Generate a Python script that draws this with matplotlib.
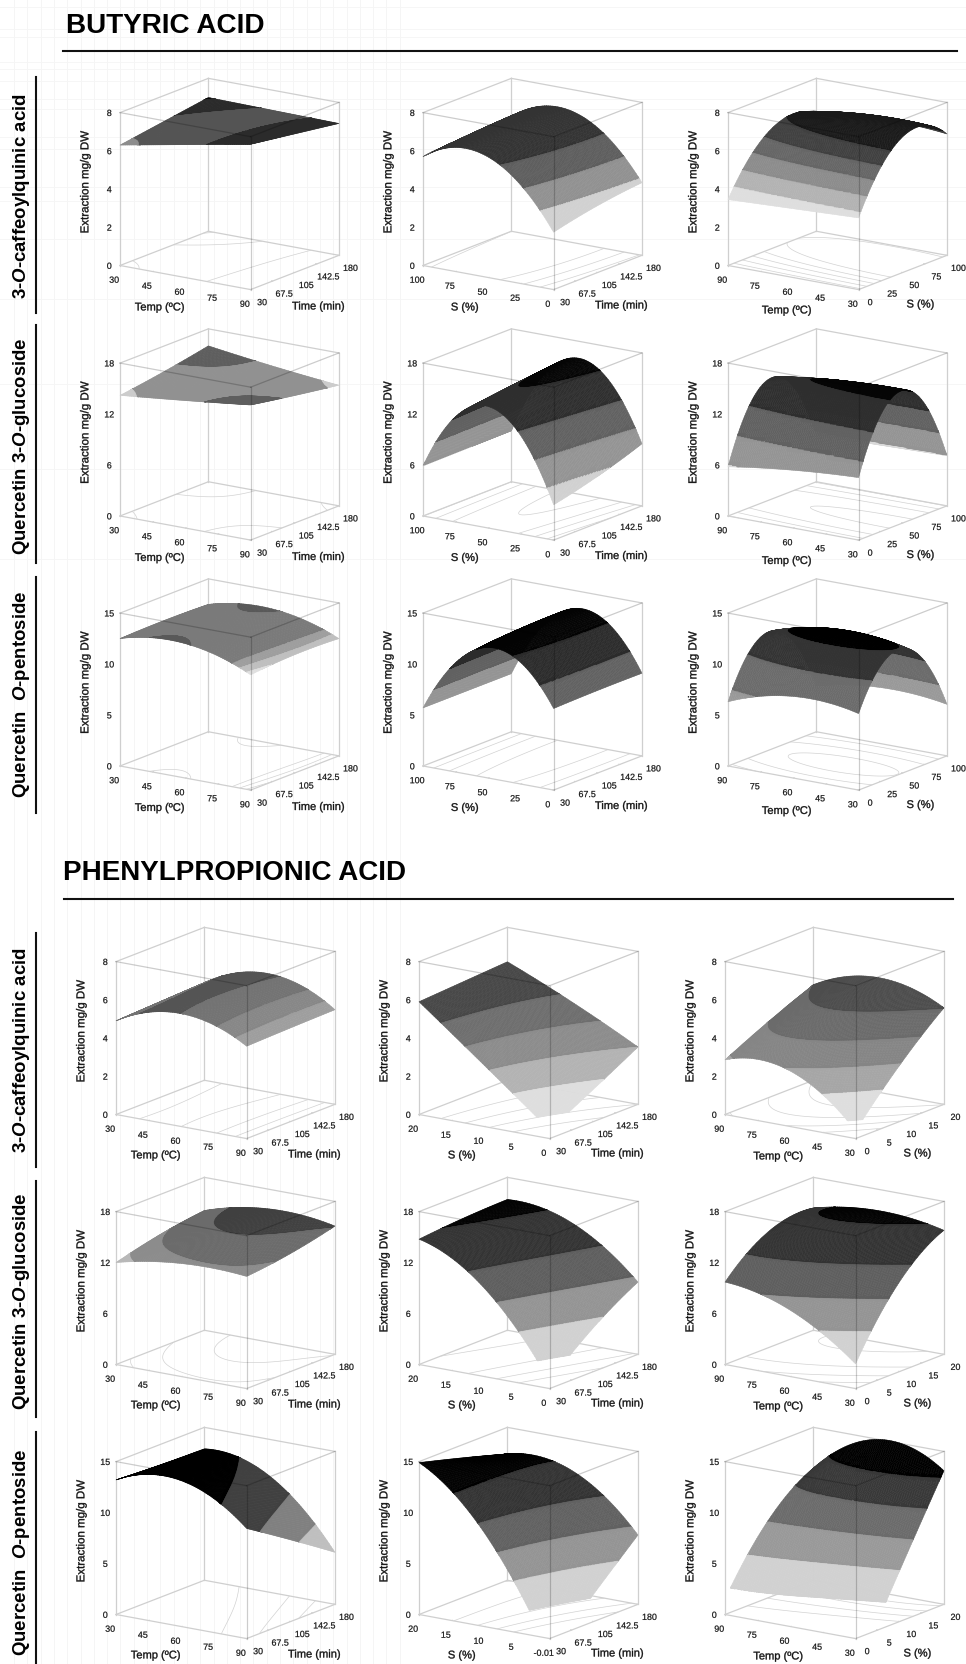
import warnings
import numpy as np
import matplotlib
matplotlib.use('Agg')
import matplotlib.pyplot as plt
import matplotlib.patheffects as pe
from mpl_toolkits.mplot3d import proj3d
from mpl_toolkits.mplot3d.art3d import Poly3DCollection

warnings.filterwarnings('ignore')
plt.rcParams['font.family'] = ['Liberation Sans', 'DejaVu Sans']
plt.rcParams['mathtext.fontset'] = 'custom'
plt.rcParams['mathtext.rm'] = 'Liberation Sans:bold'
plt.rcParams['mathtext.it'] = 'Liberation Sans:italic:bold'
plt.rcParams['mathtext.bf'] = 'Liberation Sans:bold'

W_PX, H_PX = 966, 1665

# tick labels ---------------------------------------------------------------
TEMP = [30, 45, 60, 75, 90]
TEMP_REV = [90, 75, 60, 45, 30]
TIME = [30, 67.5, 105, 142.5, 180]
S_BUT_REV = [100, 75, 50, 25, 0]
S_BUT = [0, 25, 50, 75, 100]
S_PHE_REV = [20, 15, 10, 5, 0]
S_PHE = [0, 5, 10, 15, 20]
Z_CQA = [0, 2, 4, 6, 8]
Z_GLU = [0, 6, 12, 18]
Z_PEN = [0, 5, 10, 15]

# response values at low / mid / high of each factor
# rows: second factor (front -> back), columns: first factor (left -> front)
Z11 = [[6.3, 6.95, 7.6], [6.65, 7.1, 7.25], [7.0, 6.95, 6.9]]
Z12 = [[5.7, 6.3, 3.0], [5.85, 6.7, 3.5], [6.0, 6.8, 3.8]]
Z13 = [[3.45, 3.6, 3.75], [6.3, 6.9, 7.1], [6.2, 6.5, 6.35]]
Z21 = [[14.2, 15.0, 15.9], [15.0, 15.05, 15.0], [16.0, 15.0, 14.2]]
Z22 = [[5.9, 14.3, 4.15], [5.95, 15.2, 5.5], [6.0, 16.0, 7.3]]
Z23 = [[5.8, 6.8, 7.35], [14.3, 15.3, 15.6], [5.5, 5.7, 5.9]]
Z31 = [[12.5, 13.18, 11.3], [12.6, 12.9, 11.6], [12.5, 13.2, 11.5]]
Z32 = [[5.7, 12.8, 8.0], [5.7, 13.2, 8.1], [5.7, 13.3, 8.1]]
Z33 = [[6.3, 8.0, 7.5], [11.6, 12.9, 12.2], [4.5, 5.5, 5.05]]
Z41 = [[4.9, 5.9, 4.83], [5.0, 6.1, 4.9], [5.1, 6.2, 4.95]]
Z42 = [[5.9, 3.2, 0.45], [6.05, 3.9, 1.7], [6.2, 4.7, 3.0]]
Z43 = [[2.86, 2.9, 0.4], [4.0, 4.75, 2.95], [5.0, 6.0, 5.05]]
Z51 = [[12.0, 13.3, 13.2], [13.3, 15.0, 13.9], [14.1, 15.7, 15.1]]
Z52 = [[14.75, 10.4, 0.8], [15.2, 12.5, 5.2], [15.4, 14.0, 8.5]]
Z53 = [[9.7, 7.8, 2.9], [13.7, 13.5, 10.6], [14.4, 15.5, 14.6]]
Z61 = [[13.2, 14.3, 10.8], [13.0, 13.0, 8.0], [12.9, 11.4, 5.1]]
Z62 = [[14.9, 9.2, -1.5], [13.7, 10.5, 2.7], [12.4, 11.9, 6.8]]
Z63 = [[1.5, 0.5, -3.4], [7.7, 7.0, 5.0], [11.0, 15.0, 13.1]]

# field that sets the grey bands where it differs from the height
SHADE11 = [[6.3, 6.85, 7.5], [6.9, 6.9, 7.4], [7.7, 7.0, 7.3]]
SHADE41 = [[5.9, 6.15, 5.0], [5.9, 6.15, 5.0], [5.9, 6.25, 5.0]]

# grey band limits and greys
L11, G11 = [6.45, 7.05, 7.6], [0.55, 0.33, 0.17, 0.03]
L12, G12 = [4, 5, 6, 7], [0.82, 0.57, 0.37, 0.2, 0.04]
L13, G13 = [4, 4.7, 5.4, 6, 6.6], [0.87, 0.7, 0.55, 0.4, 0.25, 0.1]
L21, G21 = [14.4, 15.25], [0.8, 0.57, 0.37]
L22, G22 = [6, 9, 12, 15], [0.82, 0.58, 0.38, 0.18, 0.02]
L23, G23 = [6, 9, 12, 15], [0.85, 0.58, 0.38, 0.18, 0.02]
L31, G31 = [11.5, 11.8, 12.1, 13.12], [0.88, 0.75, 0.62, 0.48, 0.35]
L32, G32 = [7.7, 10, 12.4], [0.58, 0.38, 0.17, 0.01]
L33, G33 = [7.3, 10.2, 12.3], [0.6, 0.42, 0.2, 0.0]
L41, G41 = [5.3, 5.7, 6.15], [0.62, 0.53, 0.45, 0.33]
L42, G42 = [2, 3, 4, 5], [0.87, 0.7, 0.55, 0.43, 0.28]
L43, G43 = [2, 3, 4, 5], [0.87, 0.65, 0.52, 0.42, 0.3]
L51, G51 = [12.5, 13.6, 15], [0.72, 0.55, 0.42, 0.25]
L52, G52 = [6, 9, 12, 15], [0.82, 0.58, 0.37, 0.2, 0.01]
L53, G53 = [6, 9, 12, 15], [0.82, 0.58, 0.37, 0.2, 0.01]
L61, G61 = [7.5, 10, 12.7], [0.75, 0.5, 0.25, 0.0]
L62, G62 = [5, 7.5, 10, 12.5], [0.82, 0.58, 0.38, 0.2, 0.0]
L63, G63 = [5, 7.5, 10, 12.5], [0.82, 0.6, 0.42, 0.22, 0.0]

# lowest response shown on a surface
CUT42, CUT43, CUT52, CUT53, CUT62, CUT63 = 1.0, 0.85, 3.0, 2.9, 2.4, 2.4

ROW_LABELS = ['3-$\\mathit{O}$-caffeoylquinic acid', 'Quercetin 3-$\\mathit{O}$-glucoside',
              'Quercetin  $\\mathit{O}$-pentoside']

PANELS = [
    # row, col, Z, levels, greys, ticks x, ticks y, ticks z, labels x, y, shade, cut
    (0, 0, Z11, L11, G11, TEMP, TIME, Z_CQA, 'Temp (ºC)', 'Time (min)', SHADE11, None),
    (0, 1, Z12, L12, G12, S_BUT_REV, TIME, Z_CQA, 'S (%)', 'Time (min)', None, None),
    (0, 2, Z13, L13, G13, TEMP_REV, S_BUT, Z_CQA, 'Temp (ºC)', 'S (%)', None, None),
    (1, 0, Z21, L21, G21, TEMP, TIME, Z_GLU, 'Temp (ºC)', 'Time (min)', None, None),
    (1, 1, Z22, L22, G22, S_BUT_REV, TIME, Z_GLU, 'S (%)', 'Time (min)', None, None),
    (1, 2, Z23, L23, G23, TEMP_REV, S_BUT, Z_GLU, 'Temp (ºC)', 'S (%)', None, None),
    (2, 0, Z31, L31, G31, TEMP, TIME, Z_PEN, 'Temp (ºC)', 'Time (min)', None, None),
    (2, 1, Z32, L32, G32, S_BUT_REV, TIME, Z_PEN, 'S (%)', 'Time (min)', None, None),
    (2, 2, Z33, L33, G33, TEMP_REV, S_BUT, Z_PEN, 'Temp (ºC)', 'S (%)', None, None),
    (3, 0, Z41, L41, G41, TEMP, TIME, Z_CQA, 'Temp (ºC)', 'Time (min)', SHADE41, None),
    (3, 1, Z42, L42, G42, S_PHE_REV, TIME, Z_CQA, 'S (%)', 'Time (min)', None, CUT42),
    (3, 2, Z43, L43, G43, TEMP_REV, S_PHE, Z_CQA, 'Temp (ºC)', 'S (%)', None, CUT43),
    (4, 0, Z51, L51, G51, TEMP, TIME, Z_GLU, 'Temp (ºC)', 'Time (min)', None, None),
    (4, 1, Z52, L52, G52, S_PHE_REV, TIME, Z_GLU, 'S (%)', 'Time (min)', None, CUT52),
    (4, 2, Z53, L53, G53, TEMP_REV, S_PHE, Z_GLU, 'Temp (ºC)', 'S (%)', None, CUT53),
    (5, 0, Z61, L61, G61, TEMP, TIME, Z_PEN, 'Temp (ºC)', 'Time (min)', None, None),
    (5, 1, Z62, L62, G62, S_PHE_REV, TIME, Z_PEN, 'S (%)', 'Time (min)', None, CUT62),
    (5, 2, Z63, L63, G63, TEMP_REV, S_PHE, Z_PEN, 'Temp (ºC)', 'S (%)', None, CUT63),
]

# layout, in reference pixels
ROW_Y0 = [266.5, 517, 767, 1115.5, 1365.5, 1615.5]
COL_X_TOP = [120, 423, 728]
COL_X_BOT = [116, 419, 725]
BOX_W = 219
ELEV, AZIM = 15.5, -55.4
ASPECT = (158, 155, 158)
N = 70
K = 6
# extra label shifts (pixels, +x right, +y up) per column, top and bottom block
XLAB_TOP = [(-9.5, 4), (-7.5, 4), (9.5, 1)]
XLAB_BOT = [(-9.5, 5), (-6.5, 5), (4, 4)]
YLAB_TOP = [(0, -2), (0, -1), (-6, 0)]
YLAB_BOT = [(0, -1), (0, 0), (-6, 0)]
ZLAB = (5, 9)

fig = plt.figure(figsize=(W_PX / 100, H_PX / 100), dpi=100, facecolor='white')

# page furniture ------------------------------------------------------------
bg = fig.add_axes([0, 0, 1, 1], zorder=-5)
bg.set_xlim(0, W_PX)
bg.set_ylim(H_PX, 0)
bg.axis('off')
for x in np.arange(14, 400, 13.3):
    bg.plot([x, x], [0, H_PX], color='#f5f5f5', lw=0.7)
for y in [8, 30, 38, 63, 70, 82, 100, 110, 138, 150, 188, 202, 240, 300, 385, 470, 560]:
    bg.plot([0, W_PX], [y, y], color='#f6f6f6', lw=0.7)

bg.text(66, 33, 'BUTYRIC ACID', fontsize=20.1, fontweight='bold', va='baseline')
bg.text(63, 880, 'PHENYLPROPIONIC ACID', fontsize=20, fontweight='bold', va='baseline')
bg.plot([63, 957], [52, 52], color='#111111', lw=1.5)
bg.plot([64, 953], [900, 900], color='#111111', lw=1.5)

for (y0, y1), yc, lab in zip([(78, 314), (326, 564), (578, 814), (934, 1168), (1182, 1418), (1433, 1665)],
                             [196.5, 446.5, 694.5, 1050.5, 1301.5, 1552.5],
                             ROW_LABELS * 2):
    bg.plot([36, 36], [y0, y1], color='#111111', lw=1.5)
    bg.text(22, yc, lab, rotation=90, fontsize=13.4, fontweight='bold', ha='center', va='center')


def lagrange(t):
    return np.array([2 * (t - 0.5) * (t - 1), -4 * t * (t - 1), 2 * t * (t - 0.5)])


def evaluate(grid, u, v):
    """value of the biquadratic through the 3x3 readings, at paired u, v"""
    return np.einsum('j...,ji,i...->...', lagrange(v), np.asarray(grid, float), lagrange(u))


def project(ax, x, y, z):
    xs, ys, _ = proj3d.proj_transform(x, y, z, ax.get_proj())
    return ax.transData.transform((xs, ys))


def fit(ax, xa, ya, left_px, y0_px):
    size, cx, cy = 320.0, left_px + 110.0, H_PX - y0_px + 70.0
    for _ in range(3):
        ax.set_position([(cx - size / 2) / W_PX, (cy - size / 2) / H_PX, size / W_PX, size / H_PX])
        ax.apply_aspect()
        p_l = project(ax, xa[0], ya[0], 0)
        p_r = project(ax, xa[1], ya[1], 0)
        size *= BOX_W / (p_r[0] - p_l[0])
        ax.set_position([(cx - size / 2) / W_PX, (cy - size / 2) / H_PX, size / W_PX, size / H_PX])
        ax.apply_aspect()
        p_l = project(ax, xa[0], ya[0], 0)
        cx += left_px - p_l[0]
        cy += (H_PX - y0_px) - p_l[1]
    ax.set_position([(cx - size / 2) / W_PX, (cy - size / 2) / H_PX, size / W_PX, size / H_PX])


def cells(Z, field, lev, cut):
    """cell corners (u0, v0, size); cells that a band limit or the cut crosses are split finer"""
    h = 1.0 / N
    u0, v0 = np.meshgrid(np.arange(N) * h, np.arange(N) * h)
    u0, v0 = u0.ravel(), v0.ravel()
    du = np.array([0, 1, 1, 0])
    dv = np.array([0, 0, 1, 1])
    uc = u0[:, None] + du * h
    vc = v0[:, None] + dv * h
    bands = np.digitize(evaluate(field, uc, vc), lev)
    cross = bands.min(axis=1) != bands.max(axis=1)
    if cut is not None:
        zc = evaluate(Z, uc, vc)
        cross |= (zc.min(axis=1) < cut) & (zc.max(axis=1) >= cut)
    s = h / K
    gu, gv = np.meshgrid(np.arange(K) * s, np.arange(K) * s)
    uf = (u0[cross][:, None] + gu.ravel()).ravel()
    vf = (v0[cross][:, None] + gv.ravel()).ravel()
    return (np.r_[u0[~cross], uf], np.r_[v0[~cross], vf],
            np.r_[np.full((~cross).sum(), h), np.full(uf.size, s)])


def shifted(dx_px, dy_px, width):
    return [pe.Stroke(offset=(dx_px * 0.72, dy_px * 0.72), linewidth=width, foreground='#111111')]


for (r, c, Z, lev, grey, xt, yt, zt, xlab, ylab, shade, cut) in PANELS:
    ax = fig.add_axes([0.1, 0.1, 0.3, 0.18], projection='3d', computed_zorder=False, proj_type='ortho')
    ax.patch.set_visible(False)
    ax.view_init(elev=ELEV, azim=AZIM)
    ax.set_box_aspect(ASPECT)
    xa = (xt[0], xt[-1])
    ya = (yt[0], yt[-1])
    ztop = zt[-1]
    ax.set_xlim(xa[0], xa[1], view_margin=0)
    ax.set_ylim(ya[0], ya[1], view_margin=0)
    ax.set_zlim(0, ztop, view_margin=0)

    left_px = (COL_X_TOP if r < 3 else COL_X_BOT)[c]
    fit(ax, xa, ya, left_px, ROW_Y0[r])

    # surface
    field = shade if shade is not None else Z
    u0, v0, sz = cells(Z, field, lev, cut)
    uu = np.stack([u0, u0 + sz, u0 + sz, u0], 1)
    vv = np.stack([v0, v0, v0 + sz, v0 + sz], 1)
    zz = evaluate(Z, uu, vv)
    verts = np.stack([xa[0] + (xa[1] - xa[0]) * uu, ya[0] + (ya[1] - ya[0]) * vv, zz], -1)
    g = np.asarray(grey)[np.digitize(evaluate(field, u0 + sz / 2, v0 + sz / 2), lev)]
    keep = np.ones_like(g, bool) if cut is None else zz.mean(axis=1) >= cut
    cols = np.stack([g, g, g, np.ones_like(g)], -1)[keep]
    poly = Poly3DCollection(verts[keep], facecolors=cols, edgecolors=cols, linewidths=0.35, zorder=2)
    ax.add_collection3d(poly, autolim=False)

    # floor contours
    e = np.linspace(0, 1, 81)
    Ue, Ve = np.meshgrid(e, e)
    XX = xa[0] + (xa[1] - xa[0]) * Ue
    YY = ya[0] + (ya[1] - ya[0]) * Ve
    ax.contour(XX, YY, evaluate(field, Ue, Ve), levels=lev, zdir='z', offset=0,
               colors='#d2d2d2', linewidths=0.5, zorder=1)

    # box
    lo_x, hi_x = xa
    lo_y, hi_y = ya
    back = [([lo_x, lo_x], [lo_y, hi_y], [ztop, ztop]), ([lo_x, hi_x], [hi_y, hi_y], [ztop, ztop]),
            ([lo_x, lo_x], [hi_y, hi_y], [0, ztop]), ([lo_x, lo_x], [lo_y, hi_y], [0, 0]),
            ([lo_x, hi_x], [hi_y, hi_y], [0, 0]), ([lo_x, lo_x], [lo_y, lo_y], [0, ztop]),
            ([hi_x, hi_x], [hi_y, hi_y], [0, ztop]), ([lo_x, hi_x], [lo_y, lo_y], [0, 0]),
            ([hi_x, hi_x], [lo_y, hi_y], [0, 0])]
    for seg in back:
        ax.plot(*seg, color='#cfcfcf', lw=0.9, zorder=0.5)
    front = [([lo_x, hi_x], [lo_y, lo_y], [ztop, ztop]), ([hi_x, hi_x], [lo_y, hi_y], [ztop, ztop]),
             ([hi_x, hi_x], [lo_y, lo_y], [0, ztop])]
    for seg in front:
        ax.plot(*seg, color='black', alpha=0.2, lw=0.9, zorder=3)

    # axes
    ax.grid(False)
    ax.set_xticks(xt)
    ax.set_yticks(yt)
    ax.set_zticks(zt)
    xlabels = [str(v) for v in xt]
    if r == 5 and c == 1:
        xlabels[-1] = '-0.01'
    ax.set_xticklabels(xlabels)
    ax.set_yticklabels([str(v) for v in yt])
    ax.set_zticklabels([str(v) for v in zt])
    ax.tick_params(axis='both', labelsize=6.4, pad=-1.5, color='#c8c8c8', labelcolor='#111111', length=2)
    ax.tick_params(axis='z', pad=-4.5, labelsize=6.4, color='#ffffff')
    ax.zaxis.set_ticks_position('lower')
    ax.zaxis.set_label_position('lower')
    xoff = (XLAB_TOP if r < 3 else XLAB_BOT)[c]
    yoff = (YLAB_TOP if r < 3 else YLAB_BOT)[c]
    for axis, lab, rot, fs, off, toff in ((ax.xaxis, xlab, 0, 8.0, xoff, (0, 2)),
                                          (ax.yaxis, ylab, 0, 8.0, yoff, (3, 3)),
                                          (ax.zaxis, 'Extraction mg/g DW', 90, 8.3, ZLAB, (-3, 4))):
        axis.set_pane_color((1, 1, 1, 0))
        axis.pane.set_edgecolor((1, 1, 1, 0))
        axis.line.set_color((0.8, 0.8, 0.8, 0))
        axis.set_rotate_label(False)
        axis.set_label_text(lab, rotation=rot, fontsize=fs, color='#111111')
        axis.labelpad = -3
        axis.label.set_path_effects(shifted(off[0], off[1], 0.25))
        for tick in axis.get_major_ticks():
            tick.label1.set_path_effects(shifted(toff[0], toff[1], 0.15))
        axis._axinfo['tick']['inward_factor'] = 0.0
        axis._axinfo['tick']['outward_factor'] = 0.12
        axis._axinfo['tick']['linewidth'] = {True: 0.6, False: 0.4}

fig.savefig('out.png', dpi=100, facecolor='white')
